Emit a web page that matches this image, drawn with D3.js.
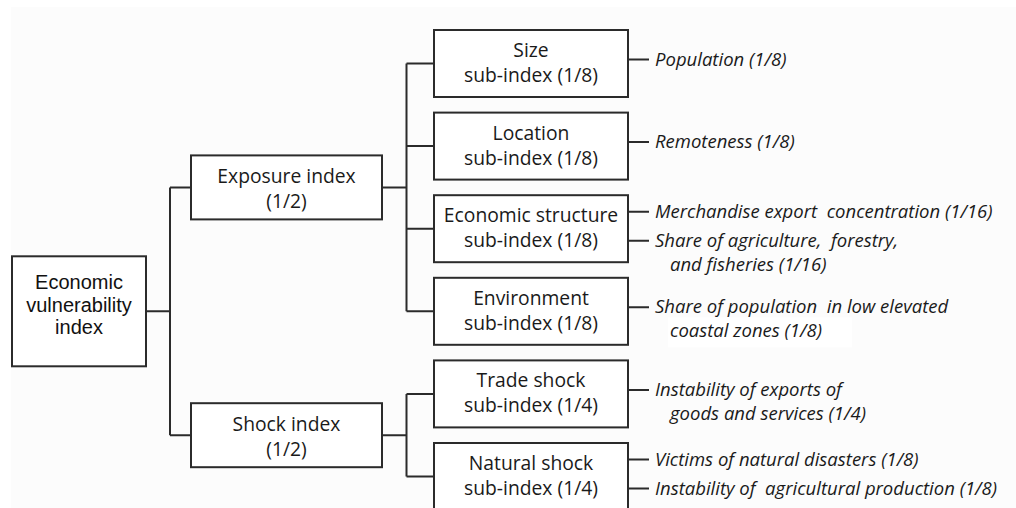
<!DOCTYPE html>
<html>
<head>
<meta charset="utf-8">
<script src="https://cdn.jsdelivr.net/npm/d3@7"></script>
<style>
  html, body { margin: 0; padding: 0; background: #ffffff; }
  svg { display: block; }
  .box { fill: #ffffff; stroke: #2b2b2b; stroke-width: 2; }
  .link { fill: none; stroke: #2b2b2b; stroke-width: 2; }
  .boxtxt { font-family: "Open Sans", "Noto Sans", sans-serif; font-size: 19.3px; fill: #1a1a1a; text-anchor: middle; }
  .roottxt { font-family: "Liberation Sans", Arial, sans-serif; font-size: 20px; fill: #111; text-anchor: middle; }
  .leaf { font-family: "Open Sans", "Noto Sans", sans-serif; font-style: italic; font-size: 18.5px; fill: #1a1a1a; white-space: pre; }
</style>
</head>
<body>
<svg id="chart" width="1016" height="508"></svg>
<script>
// ---------------- data ----------------
const rootLabel = ["Economic", "vulnerability", "index"];
const indexNames = ["Exposure index", "Shock index"];
const indexWeights = ["(1/2)", "(1/2)"];
const subNames = ["Size", "Location", "Economic structure", "Environment", "Trade shock", "Natural shock"];
const subWeights = ["sub-index (1/8)", "sub-index (1/8)", "sub-index (1/8)", "sub-index (1/8)", "sub-index (1/4)", "sub-index (1/4)"];
const subParent = [0, 0, 0, 0, 1, 1];
const indicatorSub = [0, 1, 2, 2, 3, 4, 5, 5];
const indicatorLines = [
  ["Population (1/8)"],
  ["Remoteness (1/8)"],
  ["Merchandise export  concentration (1/16)"],
  ["Share of agriculture,  forestry,", "and fisheries (1/16)"],
  ["Share of population  in low elevated", "coastal zones (1/8)"],
  ["Instability of exports of", "goods and services (1/4)"],
  ["Victims of natural disasters (1/8)"],
  ["Instability of  agricultural production (1/8)"]
];

// ---------------- layout ----------------
const W = 1016, H = 508;
const svg = d3.select("#chart");

svg.append("rect").attr("x", 11).attr("y", 7).attr("width", W - 11).attr("height", H - 7).attr("fill", "#fcfcfc");

const col = {
  root:  { x: 12,  w: 134 },
  index: { x: 191, w: 191 },
  sub:   { x: 434, w: 194 },
  leafX: 655, leafIndent: 670, dashEnd: 649
};
const subH = 67, indexH = 64, rootH = 110;

const subY = d3.scalePoint().domain(d3.range(subNames.length)).range([30, 443]);
const subs = subNames.map((n, i) => ({ i, name: n, weight: subWeights[i], parent: subParent[i],
  top: subY(i), cy: subY(i) + subH / 2 }));
const indices = indexNames.map((n, i) => {
  const kids = subs.filter(s => s.parent === i);
  const cy = d3.mean(kids, k => k.cy);
  return { i, name: n, weight: indexWeights[i], kids, cy, top: cy - indexH / 2 };
});
const rootCy = d3.mean(indices, d => d.cy);

const g = svg.append("g");

// links root -> indices
const rootJoinX = 170;
const linkPath = d3.path();
linkPath.moveTo(col.root.x + col.root.w, rootCy); linkPath.lineTo(rootJoinX, rootCy);
linkPath.moveTo(rootJoinX, d3.min(indices, d => d.cy)); linkPath.lineTo(rootJoinX, d3.max(indices, d => d.cy));
indices.forEach(d => { linkPath.moveTo(rootJoinX, d.cy); linkPath.lineTo(col.index.x, d.cy); });

// links indices -> subs
const subJoinX = 406.5;
indices.forEach(d => {
  linkPath.moveTo(col.index.x + col.index.w, d.cy); linkPath.lineTo(subJoinX, d.cy);
  linkPath.moveTo(subJoinX, d3.min(d.kids, k => k.cy)); linkPath.lineTo(subJoinX, d3.max(d.kids, k => k.cy));
  d.kids.forEach(k => { linkPath.moveTo(subJoinX, k.cy); linkPath.lineTo(col.sub.x, k.cy); });
});

// indicators
const leaves = indicatorLines.map((lines, i) => ({ i, lines, sub: indicatorSub[i] }));
subs.forEach(s => {
  const ks = leaves.filter(l => l.sub === s.i);
  if (ks.length === 1) ks[0].dy = s.cy - 4;
  else ks.forEach((k, j) => k.dy = s.cy - 17 + j * 29);
});
leaves.forEach(l => { linkPath.moveTo(col.sub.x + col.sub.w, l.dy); linkPath.lineTo(col.dashEnd, l.dy); });

g.append("path").attr("class", "link").attr("d", linkPath.toString());

// root box
g.append("rect").attr("class", "box").attr("x", col.root.x).attr("y", rootCy - rootH / 2)
  .attr("width", col.root.w).attr("height", rootH);
g.append("text").attr("class", "roottxt")
  .selectAll("tspan").data(rootLabel).join("tspan")
  .attr("x", col.root.x + col.root.w / 2)
  .attr("y", (d, i) => rootCy - 22 + i * 22.5)
  .text(d => d);

// index boxes
const ig = g.selectAll("g.idx").data(indices).join("g").attr("class", "idx");
ig.append("rect").attr("class", "box").attr("x", col.index.x).attr("y", d => d.top)
  .attr("width", col.index.w).attr("height", indexH);
ig.append("text").attr("class", "boxtxt").attr("x", col.index.x + col.index.w / 2)
  .attr("y", d => d.cy - 4).text(d => d.name);
ig.append("text").attr("class", "boxtxt").attr("x", col.index.x + col.index.w / 2)
  .attr("y", d => d.cy + 21).text(d => d.weight);

// sub boxes
const sg = g.selectAll("g.sub").data(subs).join("g").attr("class", "sub");
sg.append("rect").attr("class", "box").attr("x", col.sub.x).attr("y", d => d.top)
  .attr("width", col.sub.w).attr("height", subH);
sg.append("text").attr("class", "boxtxt").attr("x", col.sub.x + col.sub.w / 2)
  .attr("y", d => d.cy - 6.5).text(d => d.name);
sg.append("text").attr("class", "boxtxt").attr("x", col.sub.x + col.sub.w / 2)
  .attr("y", d => d.cy + 18.5).text(d => d.weight);

// white patch behind "coastal zones" line (as in the source image)
const coastal = leaves[4];
g.append("rect").attr("x", 668).attr("y", coastal.dy + 10).attr("width", 184).attr("height", 30).attr("fill", "#ffffff");

// leaf texts
const lt = g.selectAll("text.leaf").data(leaves).join("text").attr("class", "leaf");
lt.selectAll("tspan").data(d => d.lines.map((t, j) => ({ t, j, y: d.dy + 6 + j * 24 }))).join("tspan")
  .attr("x", d => d.j === 0 ? col.leafX : col.leafIndent)
  .attr("y", d => d.y)
  .text(d => d.t);
</script>
</body>
</html>
